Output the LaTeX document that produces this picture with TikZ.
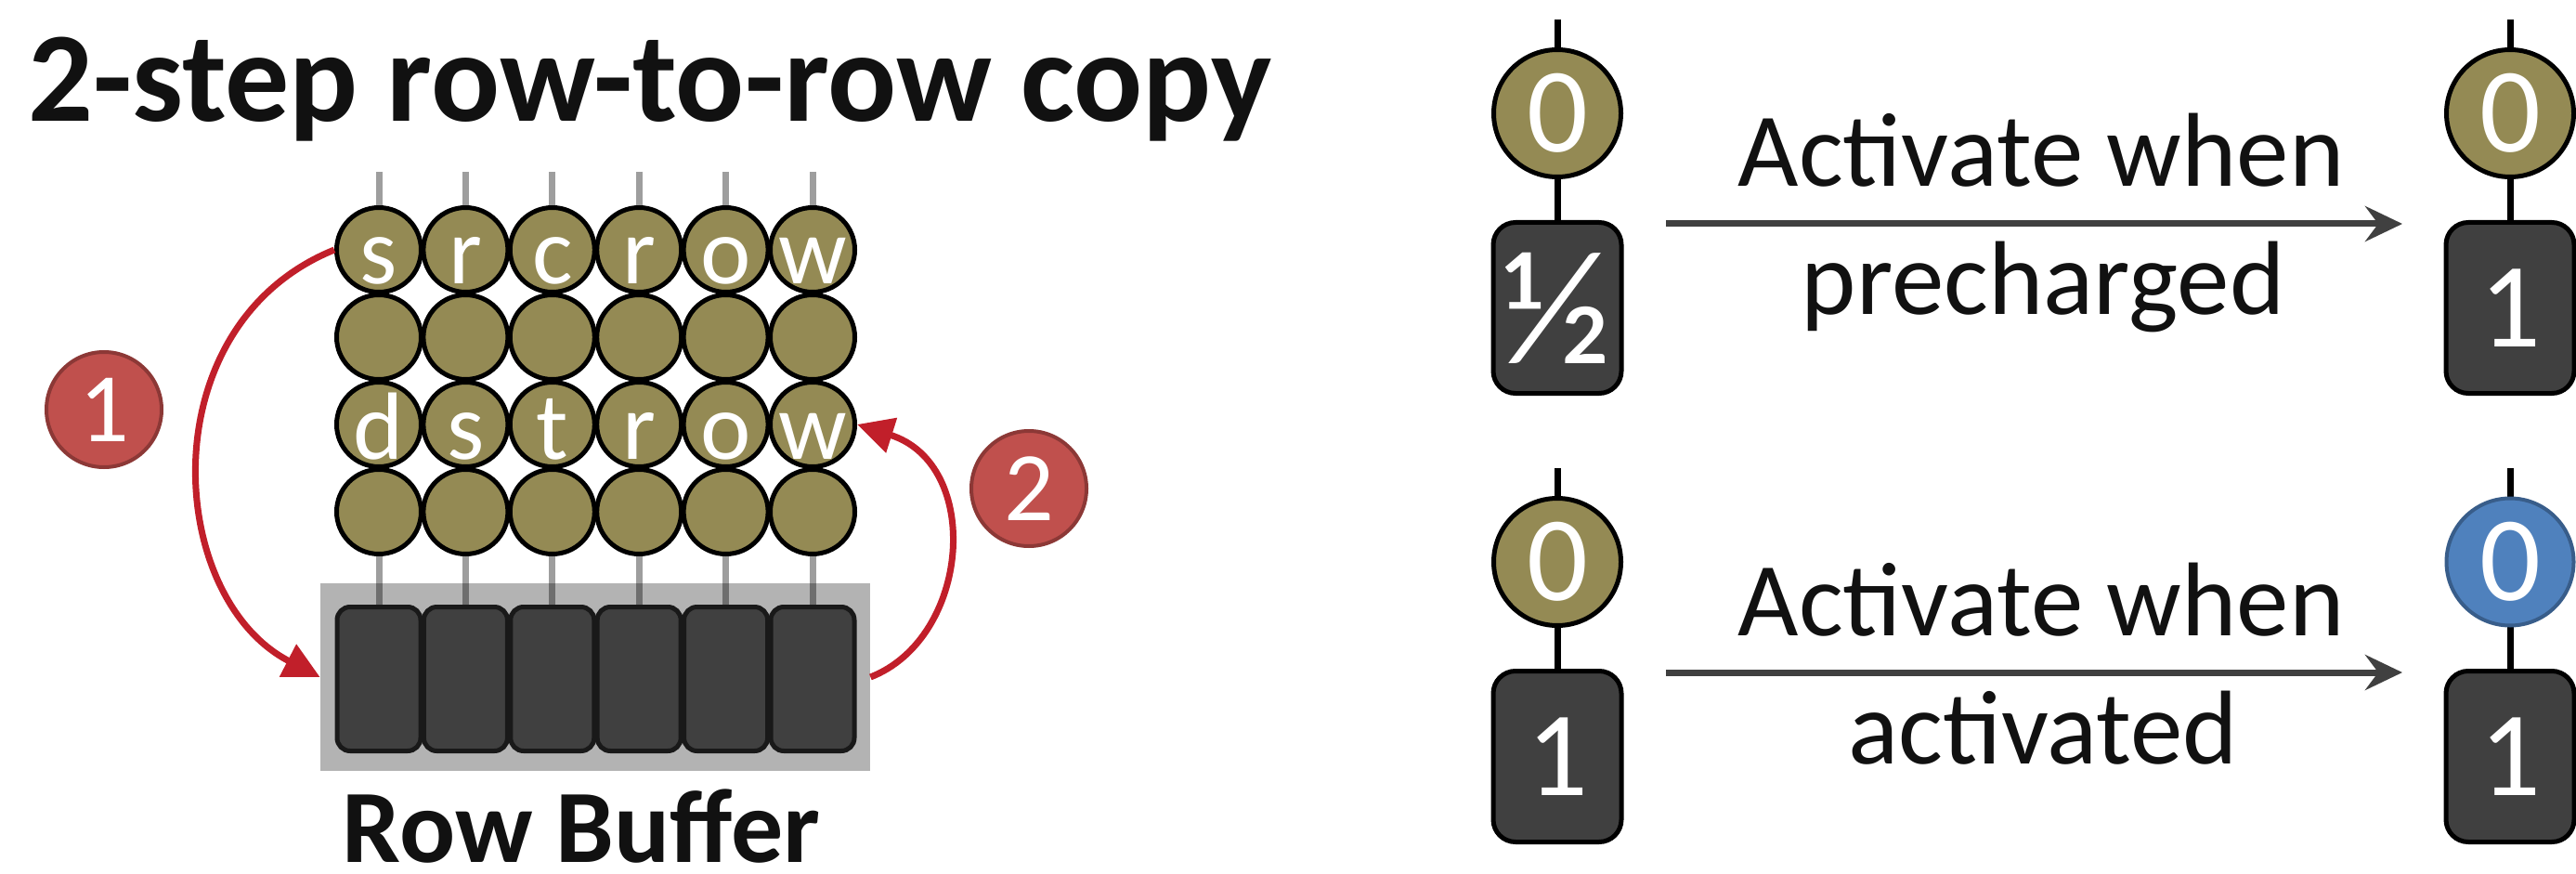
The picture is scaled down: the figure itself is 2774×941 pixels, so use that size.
\documentclass[tikz,border=0pt]{standalone}
\usepackage{fontspec}
\setmainfont{Carlito}
\usetikzlibrary{arrows.meta}
\definecolor{olive}{HTML}{948A54}
\definecolor{darkbox}{HTML}{404040}
\definecolor{bufgray}{HTML}{B3B3B3}
\definecolor{redarr}{HTML}{C11F2A}
\definecolor{redfill}{HTML}{C0504D}
\definecolor{redline}{HTML}{8C3836}
\definecolor{bluefill}{HTML}{4F81BD}
\definecolor{blueline}{HTML}{385D8A}
\definecolor{txt}{HTML}{111111}
\pgfdeclarelayer{bg}
\pgfdeclarelayer{wires}
\pgfsetlayers{bg,wires,main}
\tikzset{
  cell/.style={circle, draw=black, line width=2.5pt, fill=olive, minimum size=45.5pt, inner sep=0pt},
  lett/.style={text=white, font=\fontsize{51.5pt}{60pt}\selectfont, inner sep=0pt, anchor=base},
  bufbox/.style={rectangle, draw=black!90, line width=2.5pt, fill=darkbox, rounded corners=7pt, minimum width=45pt, minimum height=77.5pt, inner sep=0pt},
  bufbg/.style={rectangle, fill=bufgray, minimum width=296pt, minimum height=101pt, inner sep=0pt},
  wire/.style={black, opacity=0.38, line width=3.5pt},
  redarrow/.style={redarr, line width=3.5pt, -{Triangle[length=19.5pt, width=19pt]}},
  numc/.style={circle, fill=redfill, draw=redline, line width=2pt, minimum size=62pt, inner sep=0pt, text=white, font=\fontsize{53pt}{60pt}\selectfont},
  scell/.style={circle, draw=black, line width=2.5pt, fill=olive, minimum size=68.5pt, inner sep=0pt, text=white, font=\fontsize{65pt}{70pt}\selectfont},
  bcell/.style={scell, fill=bluefill, draw=blueline, line width=2pt},
  sbox/.style={rectangle, draw=black, line width=2.5pt, fill=darkbox, rounded corners=12pt, minimum width=69pt, minimum height=92pt, inner sep=0pt, text=white, font=\fontsize{65pt}{70pt}\selectfont},
  swire/.style={black, line width=3.5pt},
  grayarrow/.style={darkbox, line width=3.5pt, -{Stealth[length=20pt, width=19pt, inset=7pt]}},
  act/.style={text=txt, font=\fontsize{56.5pt}{64pt}\selectfont, inner sep=0pt, anchor=base},
  boldt/.style={text=txt, inner sep=0pt}
}
\begin{document}
\begin{tikzpicture}[x=0.5pt, y=-0.5pt]
\useasboundingbox (0,0) rectangle (2774,941);

% title
\node[boldt, anchor=base west, font=\fontsize{69pt}{76pt}\selectfont\bfseries] (title) at (30,131) {2-step row-to-row copy};

% buffer background
\begin{pgfonlayer}{bg}
\node[bufbg] (buf) at (641,729) {};
\end{pgfonlayer}

% grid cells
\foreach \j in {1,...,4}{
  \foreach \i in {1,...,6}{
    \node[cell] (c\j\i) at ({408+(\i-1)*93.4},{269+(\j-1)*94}) {};
  }
}
% buffer boxes and top wire coordinates
\foreach \i in {1,...,6}{
  \node[bufbox] (b\i) at ({408+(\i-1)*93.4},731) {};
  \coordinate (w\i) at ({408+(\i-1)*93.4},185);
}
\begin{pgfonlayer}{wires}
\foreach \i in {1,...,6}{
  \draw[wire] (w\i) -- (c1\i.center);
  \draw[wire] (c4\i.center) -- (b\i.center);
}
\end{pgfonlayer}

% letters
\foreach \l [count=\i] in {s,r,c,r,o,w}{
  \node[lett] (s\i) at ([yshift=-18.5pt]c1\i.center) {\l};
}
\foreach \l [count=\i] in {d,s,t,r,o,w}{
  \node[lett] (d\i) at ([yshift=-18.5pt]c3\i.center) {\l};
}

% Row Buffer label
\node[boldt, anchor=base, font=\fontsize{56pt}{64pt}\selectfont\bfseries] (rbl) at (626,928) {Row Buffer};

% red arrows
\draw[redarrow] (c11.west) .. controls (160,350) and (178,643) .. (buf.west);
\draw[redarrow] (buf.east) .. controls (1045,687) and (1059,500) .. (c36.east);

% step numbers
\node[numc] (n1) at (112,441) {1};
\node[numc] (n2) at (1108,526) {2};

% right side cells
\coordinate (lt1) at (1677,21);
\coordinate (rt1) at (2703,21);
\coordinate (lt2) at (1677,504);
\coordinate (rt2) at (2703,504);
\node[scell] (lc1) at (1677,122) {0};
\node[sbox, font=\fontsize{88pt}{90pt}\selectfont] (lb1) at (1677,331.5) {½};
\node[scell] (rc1) at (2703,122) {0};
\node[sbox] (rb1) at (2703,331.5) {1};
\node[scell] (lc2) at (1677,605) {0};
\node[sbox] (lb2) at (1677,814.5) {1};
\node[bcell] (rc2) at (2703,605) {0};
\node[sbox] (rb2) at (2703,814.5) {1};
\begin{pgfonlayer}{wires}
\draw[swire] (lt1) -- (lb1.center);
\draw[swire] (rt1) -- (rb1.center);
\draw[swire] (lt2) -- (lb2.center);
\draw[swire] (rt2) -- (rb2.center);
\end{pgfonlayer}

% transition arrows
\coordinate (a1s) at (1794,241);
\coordinate (a1e) at (2587,241);
\coordinate (a2s) at (1794,724);
\coordinate (a2e) at (2587,724);
\draw[grayarrow] (a1s) -- (a1e);
\draw[grayarrow] (a2s) -- (a2e);

\node[act] (t1) at (2198,201) {Activate when};
\node[act] (t2) at (2200,338) {precharged};
\node[act] (t3) at (2198,684) {Activate when};
\node[act] (t4) at (2200,822) {activated};
\end{tikzpicture}
\end{document}
